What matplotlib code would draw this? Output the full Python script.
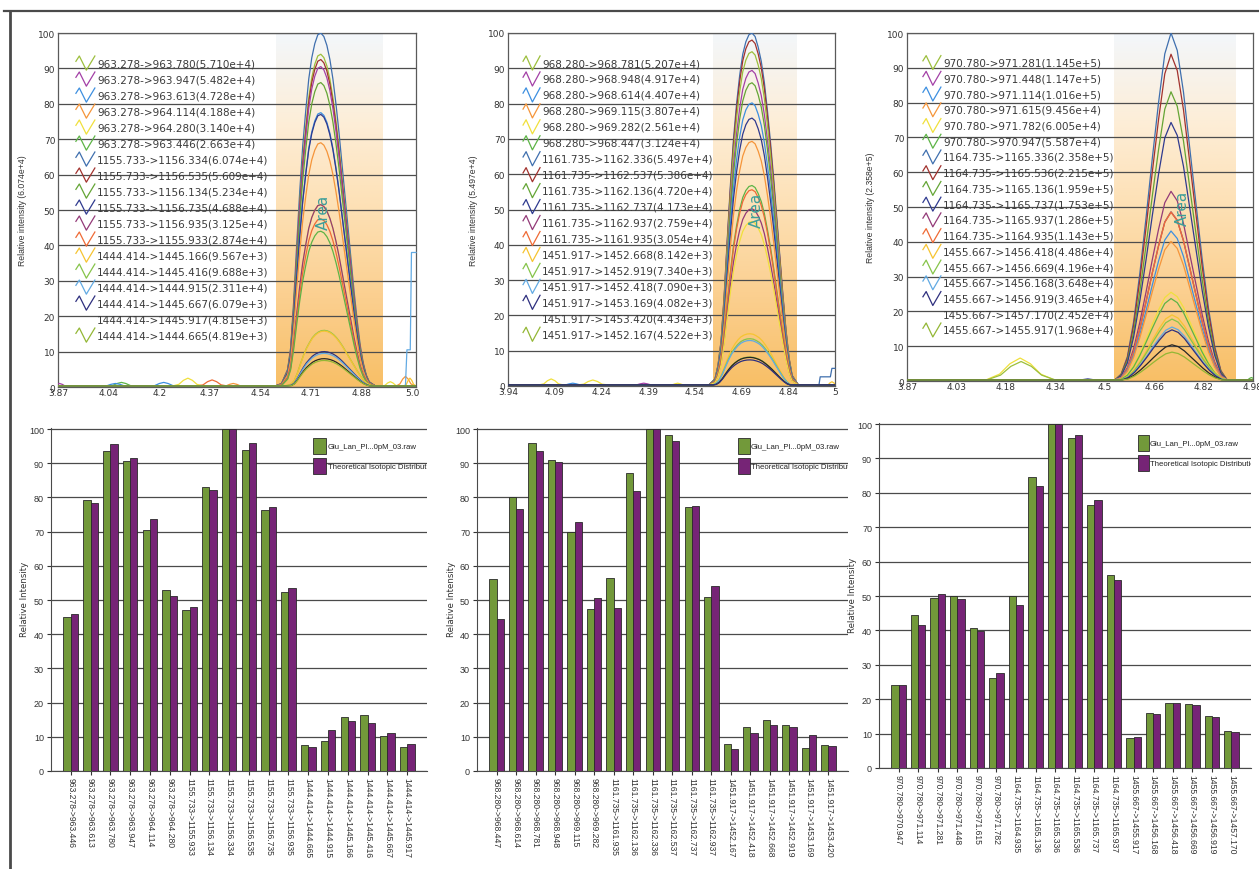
import numpy as np
import matplotlib
matplotlib.use("Agg")
import matplotlib.pyplot as plt
from matplotlib.colors import LinearSegmentedColormap
from matplotlib.lines import Line2D
from matplotlib.patches import Rectangle

# ---------------------------------------------------------------- data
trace_colors = ['#9cbf3c', '#a340a6', '#3d8fe0', '#f5953a', '#f0e03c', '#5db446',
                '#3f6fae', '#a2322e', '#64a535', '#2f3a8f', '#933a78', '#ef6a35',
                '#f6c431', '#86c44a', '#62aae3', '#2e2f7e', '#262626', '#93b735']
hidden_icon = 16  # legend entry drawn without a line sample

# panel A : 963.278 / 1155.733 / 1444.414
A_transitions = ["963.278->963.780", "963.278->963.947", "963.278->963.613",
                 "963.278->964.114", "963.278->964.280", "963.278->963.446",
                 "1155.733->1156.334", "1155.733->1156.535", "1155.733->1156.134",
                 "1155.733->1156.735", "1155.733->1156.935", "1155.733->1155.933",
                 "1444.414->1445.166", "1444.414->1445.416", "1444.414->1444.915",
                 "1444.414->1445.667", "1444.414->1445.917", "1444.414->1444.665"]
A_areas = [5.710e4, 5.482e4, 4.728e4, 4.188e4, 3.140e4, 2.663e4,
           6.074e4, 5.609e4, 5.234e4, 4.688e4, 3.125e4, 2.874e4,
           9.567e3, 9.688e3, 2.311e4, 6.079e3, 4.815e3, 4.819e3]
A_apex = [94, 90.5, 77.5, 69, 51.5, 44, 100, 92.5, 86, 77, 51.5, 47.5,
          15.8, 16, 9.5, 10, 8, 7.5]
A_rt, A_minor_rt = 4.740, 4.752
A_window = (4.592, 4.946)
A_xlim = (3.87, 5.055)
A_xticks = ["3.87", "4.04", "4.2", "4.37", "4.54", "4.71", "4.88", "5.0"]
A_tick_step = 0.1675
A_norm = "6.074e+4"
A_bump_series = [1, 5, 2, 2, 4, 11, 3, 4, 3, 12]
A_bump_rt = [3.875, 4.08, 4.06, 4.22, 4.30, 4.38, 4.45, 4.97, 5.02, 5.035]
A_bump_height = [1.0, 1.3, 1.0, 1.3, 2.5, 2.0, 1.0, 1.5, 3.0, 2.5]
A_bump_width = [0.03, 0.05, 0.05, 0.05, 0.05, 0.05, 0.04, 0.03, 0.03, 0.02]
A_tail_series = 14
A_tail_t = [5.02, 5.025, 5.036, 5.04, 5.055]
A_tail_v = [0.3, 10.5, 10.5, 38.0, 38.0]

A_bar_labels = ["963.278->963.446", "963.278->963.613", "963.278->963.780",
                "963.278->963.947", "963.278->964.114", "963.278->964.280",
                "1155.733->1155.933", "1155.733->1156.134", "1155.733->1156.334",
                "1155.733->1156.535", "1155.733->1156.735", "1155.733->1156.935",
                "1444.414->1444.665", "1444.414->1444.915", "1444.414->1445.166",
                "1444.414->1445.416", "1444.414->1445.667", "1444.414->1445.917"]
A_measured = [45.0, 79.2, 93.5, 90.6, 70.5, 53.0, 47.0, 83.0, 100.0, 94.0, 76.4, 52.2,
              7.5, 8.9, 15.9, 16.3, 10.2, 6.9]
A_theoretical = [45.8, 78.5, 95.5, 91.6, 73.6, 51.2, 48.0, 82.3, 100.0, 96.0, 77.2, 53.6,
                 6.9, 12.0, 14.5, 14.0, 11.1, 7.8]

# panel B : 968.280 / 1161.735 / 1451.917
B_transitions = ["968.280->968.781", "968.280->968.948", "968.280->968.614",
                 "968.280->969.115", "968.280->969.282", "968.280->968.447",
                 "1161.735->1162.336", "1161.735->1162.537", "1161.735->1162.136",
                 "1161.735->1162.737", "1161.735->1162.937", "1161.735->1161.935",
                 "1451.917->1452.668", "1451.917->1452.919", "1451.917->1452.418",
                 "1451.917->1453.169", "1451.917->1453.420", "1451.917->1452.167"]
B_areas = [5.207e4, 4.917e4, 4.407e4, 3.807e4, 2.561e4, 3.124e4,
           5.497e4, 5.386e4, 4.720e4, 4.173e4, 2.759e4, 3.054e4,
           8.142e3, 7.340e3, 7.090e3, 4.082e3, 4.434e3, 4.522e3]
B_apex = [94.7, 89.4, 80.2, 69.3, 46.6, 56.8, 100, 98, 85.9, 75.9, 50.2, 55.6,
          14.8, 13.4, 12.9, 7.4, 8.1, 8.2]
B_rt, B_minor_rt = 4.731, 4.725
B_window = (4.605, 4.877)
B_xlim = (3.94, 5.0)
B_xticks = ["3.94", "4.09", "4.24", "4.39", "4.54", "4.69", "4.84", "5"]
B_tick_step = 0.15143
B_norm = "5.497e+4"
B_bump_series = [4, 4, 2, 1, 4, 12]
B_bump_rt = [4.08, 4.215, 4.15, 4.38, 4.49, 4.99]
B_bump_height = [2.0, 1.7, 0.8, 0.8, 0.8, 1.2]
B_bump_width = [0.04, 0.05, 0.04, 0.04, 0.03, 0.02]
B_tail_series = 6
B_tail_t = [4.948, 4.952, 4.985, 4.99, 5.0]
B_tail_v = [0.3, 2.6, 2.6, 5.0, 5.0]

B_bar_labels = ["968.280->968.447", "968.280->968.614", "968.280->968.781",
                "968.280->968.948", "968.280->969.115", "968.280->969.282",
                "1161.735->1161.935", "1161.735->1162.136", "1161.735->1162.336",
                "1161.735->1162.537", "1161.735->1162.737", "1161.735->1162.937",
                "1451.917->1452.167", "1451.917->1452.418", "1451.917->1452.668",
                "1451.917->1452.919", "1451.917->1453.169", "1451.917->1453.420"]
B_measured = [56.0, 80.0, 96.0, 90.8, 69.8, 47.3, 56.4, 87.2, 100.0, 98.2, 77.1, 51.0,
              7.8, 13.0, 14.8, 13.4, 6.6, 7.6]
B_theoretical = [44.5, 76.7, 93.7, 90.3, 72.7, 50.7, 47.6, 82.0, 100.0, 96.4, 77.6, 54.2,
                 6.4, 11.0, 13.4, 12.9, 10.4, 7.3]

# panel C : 970.780 / 1164.735 / 1455.667
C_transitions = ["970.780->971.281", "970.780->971.448", "970.780->971.114",
                 "970.780->971.615", "970.780->971.782", "970.780->970.947",
                 "1164.735->1165.336", "1164.735->1165.536", "1164.735->1165.136",
                 "1164.735->1165.737", "1164.735->1165.937", "1164.735->1164.935",
                 "1455.667->1456.418", "1455.667->1456.669", "1455.667->1456.168",
                 "1455.667->1456.919", "1455.667->1457.170", "1455.667->1455.917"]
C_areas = [1.145e5, 1.147e5, 1.016e5, 9.456e4, 6.005e4, 5.587e4,
           2.358e5, 2.215e5, 1.959e5, 1.753e5, 1.286e5, 1.143e5,
           4.486e4, 4.196e4, 3.648e4, 3.465e4, 2.452e4, 1.968e4]
C_apex = [48.6, 48.6, 43.1, 40.1, 25.5, 23.7, 100, 93.9, 83.1, 74.3, 54.5, 48.5,
          19.0, 17.8, 15.5, 14.7, 10.4, 8.3]
C_rt, C_minor_rt = 4.717, 4.720
C_window = (4.534, 4.925)
C_xlim = (3.87, 4.98)
C_xticks = ["3.87", "4.03", "4.18", "4.34", "4.5", "4.66", "4.82", "4.98"]
C_tick_step = 0.15857
C_norm = "2.358e+5"
C_bump_series = [4, 0, 9, 5]
C_bump_rt = [4.233, 4.236, 4.45, 4.975]
C_bump_height = [6.6, 5.6, 0.6, 1.0]
C_bump_width = [0.11, 0.11, 0.04, 0.02]
C_tail_series = None
C_tail_t = []
C_tail_v = []

C_bar_labels = ["970.780->970.947", "970.780->971.114", "970.780->971.281",
                "970.780->971.448", "970.780->971.615", "970.780->971.782",
                "1164.735->1164.935", "1164.735->1165.136", "1164.735->1165.336",
                "1164.735->1165.536", "1164.735->1165.737", "1164.735->1165.937",
                "1455.667->1455.917", "1455.667->1456.168", "1455.667->1456.418",
                "1455.667->1456.669", "1455.667->1456.919", "1455.667->1457.170"]
C_measured = [24.0, 44.5, 49.3, 50.0, 40.8, 26.3, 50.0, 84.5, 100.0, 95.8, 76.5, 56.2,
              8.8, 16.0, 19.0, 18.5, 15.0, 10.8]
C_theoretical = [24.0, 41.5, 50.7, 49.0, 39.8, 27.7, 47.5, 82.0, 100.0, 96.7, 78.0, 54.6,
                 9.0, 15.6, 19.0, 18.4, 14.8, 10.4]

# elution profiles (fraction of apex vs. time offset from apex, min)
A_prof_t = [-0.15, -0.13, -0.11, -0.10, -0.09, -0.08, -0.07, -0.06, -0.05, -0.04, -0.03,
            -0.02, -0.01, 0.0, 0.01, 0.02, 0.03, 0.04, 0.05, 0.06, 0.07, 0.08, 0.09,
            0.10, 0.11, 0.12, 0.13, 0.14, 0.15, 0.16, 0.18]
A_prof_f = [0.0, 0.01, 0.05, 0.11, 0.24, 0.40, 0.55, 0.68, 0.78, 0.87, 0.93, 0.97, 0.995,
            1.0, 0.99, 0.965, 0.925, 0.87, 0.80, 0.72, 0.63, 0.54, 0.45, 0.36, 0.27,
            0.19, 0.12, 0.07, 0.035, 0.015, 0.0]
B_prof_t = [-0.14, -0.12, -0.11, -0.10, -0.09, -0.08, -0.07, -0.06, -0.05, -0.04, -0.03,
            -0.02, -0.01, 0.0, 0.01, 0.02, 0.03, 0.04, 0.05, 0.06, 0.07, 0.08, 0.09,
            0.10, 0.11, 0.12, 0.13, 0.15]
B_prof_f = [0.0, 0.02, 0.06, 0.13, 0.26, 0.42, 0.57, 0.70, 0.80, 0.88, 0.94, 0.975, 0.995,
            1.0, 0.99, 0.96, 0.92, 0.86, 0.78, 0.69, 0.59, 0.48, 0.37, 0.26, 0.16, 0.08,
            0.03, 0.0]
C_prof_t = [-0.18, -0.16, -0.14, -0.12, -0.10, -0.08, -0.06, -0.04, -0.02, 0.0, 0.02,
            0.04, 0.06, 0.08, 0.10, 0.12, 0.14, 0.16, 0.18]
C_prof_f = [0.0, 0.02, 0.07, 0.17, 0.31, 0.47, 0.64, 0.80, 0.94, 1.0, 0.95, 0.83, 0.67,
            0.51, 0.35, 0.21, 0.10, 0.03, 0.0]

bump_shape_t = [-1.0, -0.6, -0.3, 0.0, 0.3, 0.6, 1.0]
bump_shape_f = [0.0, 0.3, 0.75, 1.0, 0.75, 0.3, 0.0]

measured_name = "Glu_Lan_Pl...0pM_03.raw"
theory_name = "Theoretical Isotopic Distribution"
measured_color = '#72993a'
theory_color = '#762476'

# ---------------------------------------------------------------- layout
W, H = 1259, 870
fig = plt.figure(figsize=(W / 100, H / 100), dpi=100)
fig.patch.set_facecolor('white')


def px_axes(left, top, right, bottom):
    return fig.add_axes([left / W, 1 - bottom / H, (right - left) / W, (bottom - top) / H])


window_cmap = LinearSegmentedColormap.from_list(
    'window', ['#f8bf66', '#fbcf8f', '#fde0b4', '#fdeed8', '#f3f7fb'])


def fmt_area(v):
    e = int(np.floor(np.log10(v)))
    return f"{v / 10 ** e:.3f}e+{e}"


def chromatogram(ax, transitions, areas, apex, rt, minor_rt, window, xlim, xticks,
                 tick_step, norm, prof_t, prof_f, bump_s, bump_rt, bump_h, bump_w,
                 tail_s, tail_t, tail_v, label_x, text_x, icon_x, area_xy):
    ax.set_xlim(*xlim)
    ax.set_ylim(0, 100)
    grad = np.linspace(0, 1, 256).reshape(-1, 1)
    ax.imshow(grad, cmap=window_cmap, origin='lower', aspect='auto',
              extent=[window[0], window[1], 0, 100], zorder=0)
    ax.set_axisbelow(True)
    ax.yaxis.grid(True, color='#4d4d4d', lw=0.9)
    ax.set_yticks(np.arange(0, 101, 10))
    ax.set_xticks([xlim[0] + k * tick_step for k in range(len(xticks))])
    ax.set_xticklabels(xticks)
    ax.tick_params(axis='both', labelsize=6.5, colors='#333333', length=0, pad=2)
    ax.tick_params(axis='x', pad=1)
    for s in ax.spines.values():
        s.set_color('#5a5a5a')
        s.set_linewidth(0.9)
    ax.set_ylabel(f"Relative intensity ({norm})", fontsize=6.2,
                  family='Liberation Sans', color='#333333')
    ax.yaxis.set_label_coords(label_x, 0.5)

    base = 0.3
    for i, h in enumerate(apex):
        centre = rt if h > 20 else minor_rt
        xs = np.concatenate([[xlim[0]], centre + np.asarray(prof_t), [xlim[1]]])
        ys = np.concatenate([[base], np.maximum(h * np.asarray(prof_f), base), [base]])
        ax.plot(xs, ys, color=trace_colors[i], lw=0.9, zorder=3 + (100 - h) / 100,
                solid_joinstyle='round')
    for s, c, h, w in zip(bump_s, bump_rt, bump_h, bump_w):
        xs = c + w * np.asarray(bump_shape_t)
        ys = np.maximum(h * np.asarray(bump_shape_f), base)
        ax.plot(xs, ys, color=trace_colors[s], lw=0.9, zorder=3)
    if tail_s is not None:
        ax.plot(tail_t, tail_v, color=trace_colors[tail_s], lw=0.9, zorder=3,
                clip_on=False)

    ax.text(area_xy[0], area_xy[1], "Area", rotation=90, color='#3c9e9a',
            fontsize=11, ha='center', va='center', zorder=6)

    # legend of transitions
    for i, (t, a) in enumerate(zip(transitions, areas)):
        y = 0.915 - i * 0.0452
        if i != hidden_icon:
            ix = icon_x[0] + (icon_x[1] - icon_x[0]) * np.array([0.0, 0.18, 0.55, 1.0])
            iy = y + np.array([0.005, 0.02, -0.02, 0.02])
            ax.plot(ix, iy, color=trace_colors[i], lw=0.9, transform=ax.transAxes,
                    zorder=5)
        ax.text(text_x, y, f"{t}({fmt_area(a)})", transform=ax.transAxes,
                fontsize=7.5, color='#3a3a3a', va='center', ha='left', zorder=5)


def isotope_bars(ax, labels, measured, theory, legend_x, legend_sq_w, legend_y,
                 text_x, label_x):
    x = np.arange(len(labels))
    ax.bar(x - 0.185, measured, width=0.37, color=measured_color,
           edgecolor='#2a2a2a', lw=0.6, zorder=3)
    ax.bar(x + 0.185, theory, width=0.37, color=theory_color,
           edgecolor='#2a2a2a', lw=0.6, zorder=3)
    ax.set_xlim(-1.0, 18.0)
    ax.set_ylim(0, 100.3)
    ax.set_yticks(np.arange(0, 101, 10))
    ax.set_xticks(x)
    ax.set_xticklabels(labels, rotation=270, fontsize=6.2, family='Liberation Sans',
                       color='#333333')
    ax.tick_params(axis='x', length=3, width=0.8, color='#333333', pad=1)
    ax.tick_params(axis='y', length=3, width=0.8, color='#333333', labelsize=6.5,
                   labelcolor='#333333', pad=2)
    for lab in ax.get_yticklabels():
        lab.set_family('Liberation Sans')
    ax.set_axisbelow(True)
    ax.yaxis.grid(True, color='#4a4a4a', lw=0.9)
    ax.spines['top'].set_visible(False)
    ax.spines['right'].set_visible(False)
    ax.spines['left'].set_color('#4a4a4a')
    ax.spines['bottom'].set_color('#4a4a4a')
    ax.set_ylabel("Relative Intensity", fontsize=6.2, color='#333333')
    ax.yaxis.set_label_coords(label_x, 0.504)

    for k, (name, col) in enumerate([(measured_name, measured_color),
                                     (theory_name, theory_color)]):
        top = legend_y - k * 0.0585
        ax.add_patch(Rectangle((legend_x, top - 0.047), legend_sq_w, 0.047,
                               transform=ax.transAxes, facecolor=col,
                               edgecolor='#2a2a2a', lw=0.6, zorder=5))
        ax.text(text_x, top - 0.0235, name, transform=ax.transAxes, fontsize=5.6,
                family='Liberation Sans', color='#222222', va='center', ha='left',
                zorder=6, clip_on=True)


# ---------------------------------------------------------------- top row
axA = px_axes(58, 34, 416, 388)
chromatogram(axA, A_transitions, A_areas, A_apex, A_rt, A_minor_rt, A_window, A_xlim,
             A_xticks, A_tick_step, A_norm, A_prof_t, A_prof_f, A_bump_series,
             A_bump_rt, A_bump_height, A_bump_width, A_tail_series, A_tail_t, A_tail_v,
             label_x=-0.087, text_x=0.109, icon_x=(0.050, 0.103), area_xy=(4.749, 49.5))

axB = px_axes(508, 34, 835, 387)
chromatogram(axB, B_transitions, B_areas, B_apex, B_rt, B_minor_rt, B_window, B_xlim,
             B_xticks, B_tick_step, B_norm, B_prof_t, B_prof_f, B_bump_series,
             B_bump_rt, B_bump_height, B_bump_width, B_tail_series, B_tail_t, B_tail_v,
             label_x=-0.092, text_x=0.104, icon_x=(0.046, 0.098), area_xy=(4.744, 50.0))

axC = px_axes(907, 34, 1253, 382)
chromatogram(axC, C_transitions, C_areas, C_apex, C_rt, C_minor_rt, C_window, C_xlim,
             C_xticks, C_tick_step, C_norm, C_prof_t, C_prof_f, C_bump_series,
             C_bump_rt, C_bump_height, C_bump_width, C_tail_series, C_tail_t, C_tail_v,
             label_x=-0.092, text_x=0.104, icon_x=(0.046, 0.098), area_xy=(4.752, 50.0))

# ---------------------------------------------------------------- bottom row
axD = px_axes(51, 429, 427, 772)
isotope_bars(axD, A_bar_labels, A_measured, A_theoretical, legend_x=0.697,
             legend_sq_w=0.035, legend_y=0.971, text_x=0.737, label_x=-0.059)

axE = px_axes(477, 429, 848, 772)
isotope_bars(axE, B_bar_labels, B_measured, B_theoretical, legend_x=0.7035,
             legend_sq_w=0.032, legend_y=0.971, text_x=0.7385, label_x=-0.057)

axF = px_axes(879, 424, 1251, 769)
isotope_bars(axF, C_bar_labels, C_measured, C_theoretical, legend_x=0.696,
             legend_sq_w=0.03, legend_y=0.965, text_x=0.7285, label_x=-0.059)

# ---------------------------------------------------------------- outer frame
fig.add_artist(Line2D([4 / W, 1.0], [1 - 11.5 / H, 1 - 11.5 / H],
                      transform=fig.transFigure, color='#4a4a4a', lw=1.6))
fig.add_artist(Line2D([10 / W, 10 / W], [1 - 11.5 / H, 0.0],
                      transform=fig.transFigure, color='#4a4a4a', lw=2.0))

fig.savefig("out.png", dpi=100, facecolor='white')
